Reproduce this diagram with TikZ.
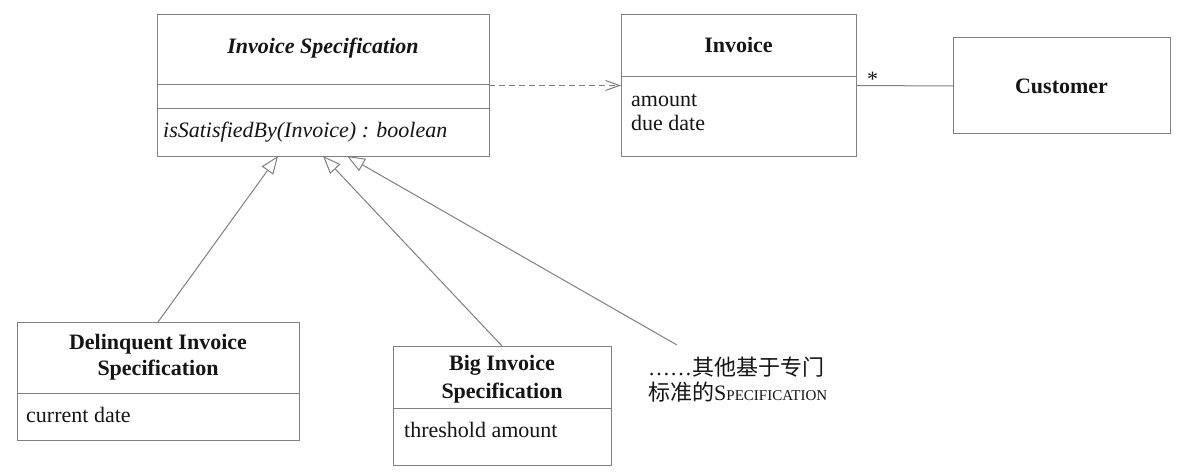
\documentclass[tikz,border=0pt]{standalone}
\usepackage{fontspec}
\setmainfont{Liberation Serif}
\newfontfamily\cjk{Noto Sans CJK SC}
\usetikzlibrary{arrows.meta,calc}
\definecolor{lineg}{HTML}{808080}
\definecolor{txt}{HTML}{151515}
\tikzset{
  box/.style={draw=lineg, line width=1pt, rectangle, inner sep=0pt, outer sep=0pt, fill=white},
  div/.style={draw=lineg, line width=1pt},
  title/.style={font=\fontsize{22}{26}\selectfont\bfseries, text=txt, align=center, inner sep=0pt},
  attr/.style={font=\fontsize{22}{24}\selectfont, text=txt, anchor=base west, inner sep=0pt, align=left},
  gen/.style={draw=lineg, line width=1pt, -{Triangle[open, length=18pt, width=14pt, line width=1pt]}},
  dep/.style={draw=lineg, line width=1pt, dashed, dash pattern=on 6pt off 4pt, -{Straight Barb[length=14pt, width=10pt, line width=1pt]}},
  assoc/.style={draw=lineg, line width=1pt}
}
\begin{document}
\begin{tikzpicture}[x=1pt,y=-1pt]
\useasboundingbox[fill=white] (0,0) rectangle (1188,476);
% Invoice Specification
\node[box, minimum width=332pt, minimum height=141pt] (spec) at (323,85.5) {};
\draw[div] (157,85) -- (489,85);
\draw[div] (157,109) -- (489,109);
\node[title, font=\fontsize{22}{26}\selectfont\bfseries\itshape] (spect) at (323,48) {Invoice Specification};
\node[attr, font=\fontsize{22}{24}\selectfont\itshape] (specm) at (163,138) {isSatisfiedBy(Invoice) : boolean};
% Invoice
\node[box, minimum width=235pt, minimum height=141pt] (inv) at (738.5,85.5) {};
\draw[div] (621,77) -- (856,77);
\node[title] (invt) at (738.5,45) {Invoice};
\node[attr] (inva) at (631,131) {amount\\due date};
% Customer
\node[box, minimum width=217pt, minimum height=96pt] (cust) at (1061.5,86) {};
\node[title] (custt) at (cust.center) {Customer};
% Delinquent
\node[box, minimum width=282pt, minimum height=118pt] (del) at (158,381) {};
\draw[div] (17,393) -- (299,393);
\node[title, anchor=base] (delt) at (158,375) {Delinquent Invoice\\Specification};
\node[attr] (dela) at (26,422) {current date};
% Big
\node[box, minimum width=218pt, minimum height=119pt] (big) at (502,405.5) {};
\draw[div] (393,408) -- (611,408);
\node[title, anchor=base, font=\fontsize{22}{28}\selectfont\bfseries] (bigt) at (502,398) {Big Invoice\\Specification};
\node[attr] (biga) at (404,437) {threshold amount};
% note
\node[attr] (note1) at (648,375) {……{\cjk 其他基于专门}};
\node[attr] (note2) at (648,400) {{\cjk 标准的}S{\fontsize{15}{15}\selectfont PECIFICATION}};
\coordinate (noteend) at (677,345);
% connectors
\draw[dep] (spec.east) -- (inv.west);
\draw[assoc] (inv.east) -- (cust.west);
\node[font=\fontsize{22}{22}\selectfont, text=txt, anchor=north west, inner sep=0pt] (star) at ($(inv.east)+(11,-14)$) {*};
\draw[gen] (del.north) -- ($(spec.south)+(-45,0)$);
\draw[gen] (big.north) -- (spec.south);
\draw[gen] (noteend) -- ($(spec.south)+(24,0)$);
\end{tikzpicture}
\end{document}
